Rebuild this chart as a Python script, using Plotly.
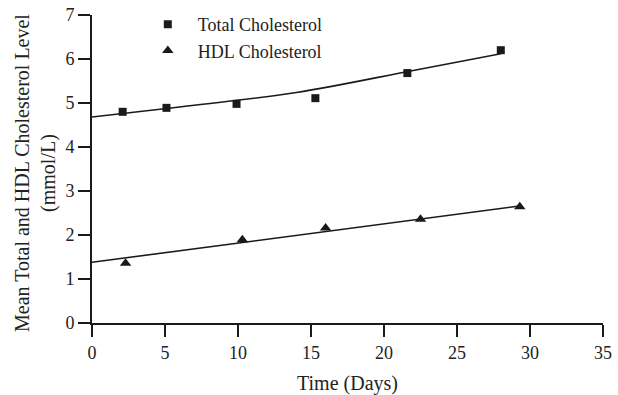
import plotly.graph_objects as go

# Data
total_days = [2.1, 5.1, 9.9, 15.3, 21.6, 28.0]
total_chol = [4.80, 4.89, 4.98, 5.11, 5.68, 6.20]
hdl_days = [2.3, 10.3, 16.0, 22.5, 29.3]
hdl_chol = [1.36, 1.89, 2.16, 2.36, 2.64]

# Trend lines as drawn in the reference
total_trend_x = [0, 6, 14, 22, 28]
total_trend_y = [4.68, 4.91, 5.24, 5.74, 6.12]
hdl_trend_x = [0, 29.3]
hdl_trend_y = [1.38, 2.66]

x_ticks = [0, 5, 10, 15, 20, 25, 30, 35]
y_ticks = [0, 1, 2, 3, 4, 5, 6, 7]

y_title = "Mean Total and HDL Cholesterol Level<br>(mmol/L)"
x_title = "Time (Days)"

FONT = "Liberation Serif"
INK = "#1a1a1a"

fig = go.Figure()
fig.add_trace(go.Scatter(x=total_trend_x, y=total_trend_y, mode="lines",
                         line=dict(color=INK, width=1.6, shape="spline"),
                         showlegend=False, hoverinfo="skip"))
fig.add_trace(go.Scatter(x=hdl_trend_x, y=hdl_trend_y, mode="lines",
                         line=dict(color=INK, width=1.6),
                         showlegend=False, hoverinfo="skip"))
fig.add_trace(go.Scatter(x=total_days, y=total_chol, mode="markers",
                         name="Total Cholesterol",
                         marker=dict(symbol="square", size=8, color=INK)))
fig.add_trace(go.Scatter(x=hdl_days, y=hdl_chol, mode="markers",
                         name="HDL Cholesterol",
                         marker=dict(symbol="triangle-up", size=10, color=INK)))

fig.update_layout(
    width=618, height=395,
    margin=dict(l=92, r=15, t=15, b=72, autoexpand=False),
    paper_bgcolor="white", plot_bgcolor="white",
    font=dict(family=FONT, size=18, color="#222"),
    legend=dict(xref="container", yref="container", x=0.223, y=0.985,
                xanchor="left", yanchor="top",
                bgcolor="rgba(0,0,0,0)", font=dict(family=FONT, size=18),
                itemwidth=50, tracegroupgap=0),
    xaxis=dict(range=[0, 35], tickvals=x_ticks, ticks="outside", ticklen=12,
               tickwidth=1.5, tickcolor=INK, showline=True, linecolor=INK,
               linewidth=2, showgrid=False, zeroline=False, automargin=False,
               tickfont=dict(size=18), fixedrange=True,
               title=dict(text=x_title, font=dict(size=20), standoff=14)),
    yaxis=dict(range=[0, 7], tickvals=y_ticks, ticks="outside", ticklen=12,
               tickwidth=1.5, tickcolor=INK, showline=True, linecolor=INK,
               linewidth=2, showgrid=False, zeroline=False, automargin=False,
               tickfont=dict(size=18), fixedrange=True),
    annotations=[dict(text=y_title, textangle=-90, xref="paper", yref="paper",
                      x=-0.1115, y=0.487, xanchor="center", yanchor="middle",
                      showarrow=False, font=dict(family=FONT, size=20, color="#222"))],
)

fig.write_html("out.html", config={"displayModeBar": False},
               post_script="document.body.style.margin='0px';")
